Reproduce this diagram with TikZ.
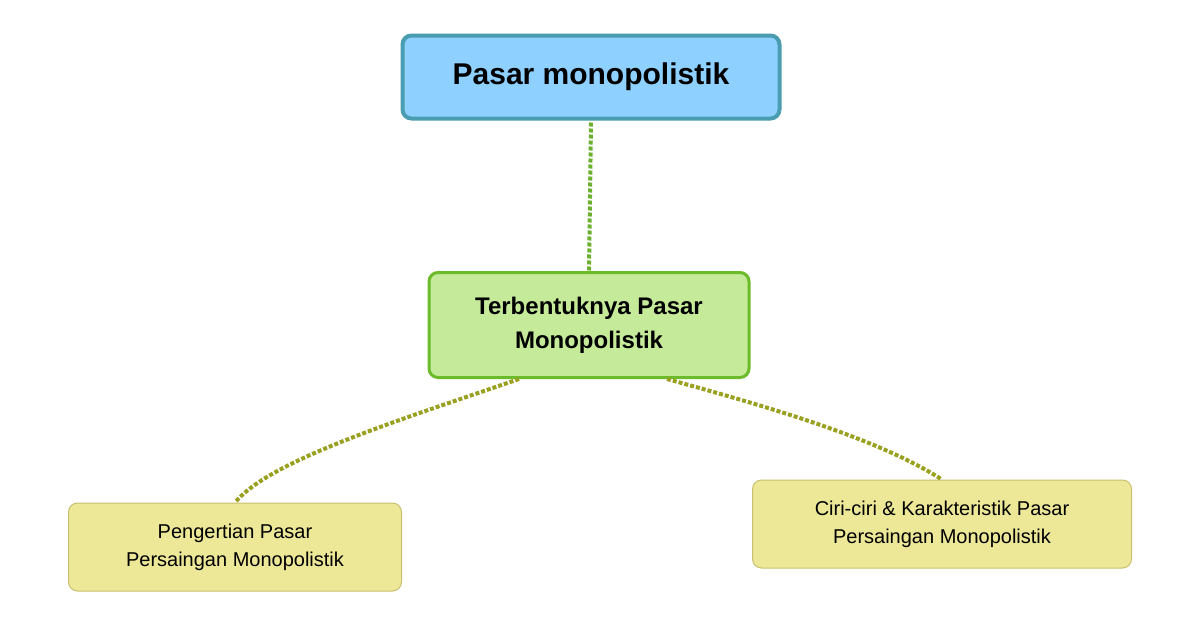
\documentclass[tikz,border=0pt]{standalone}
\usepackage{fontspec}
\setmainfont{Liberation Sans}
\begin{document}
\begin{tikzpicture}[x=1pt,y=-1pt,
 top/.style={draw=topb,fill=topf,line width=4pt,rounded corners=9pt,minimum width=377pt,minimum height=83pt,font=\bfseries\fontsize{30}{34}\selectfont},
 mid/.style={draw=midb,fill=midf,line width=3pt,rounded corners=9pt,minimum width=320pt,minimum height=105pt,align=center,font=\bfseries\fontsize{24}{34}\selectfont},
 leaf/.style={draw=leafb,fill=leaff,line width=1pt,rounded corners=9pt,align=center,font=\fontsize{20}{28}\selectfont},
 link1/.style={draw=linkg,line width=4pt,dotted},
 link2/.style={draw=linko,line width=4pt,dotted}]
\definecolor{topb}{HTML}{4A9DB0}\definecolor{topf}{HTML}{8ED0FF}
\definecolor{midb}{HTML}{6CBB2A}\definecolor{midf}{HTML}{C5EB9A}
\definecolor{leafb}{HTML}{C8C070}\definecolor{leaff}{HTML}{EDE897}
\definecolor{linkg}{HTML}{6CB030}\definecolor{linko}{HTML}{9AA020}
\useasboundingbox[fill=white] (0,0) rectangle (1200,630);
\node[top] (t) at (591,77) {Pasar monopolistik};
\node[mid] (m) at (589,325) {Terbentuknya Pasar\\Monopolistik};
\node[leaf,minimum width=333pt,minimum height=88pt] (l) at (235,547) {Pengertian Pasar\\Persaingan Monopolistik};
\node[leaf,minimum width=379pt,minimum height=88pt] (r) at (942,524) {Ciri-ciri \& Karakteristik Pasar\\Persaingan Monopolistik};
\draw[link1] (t.south) ++(0,2) -- (m.north);
\draw[link2] (m.south) ++(-70,0) .. controls (400,420) and (270,460) .. (l.north);
\draw[link2] (m.south) ++(78,0) .. controls (780,410) and (880,440) .. (r.north);
\end{tikzpicture}
\end{document}
